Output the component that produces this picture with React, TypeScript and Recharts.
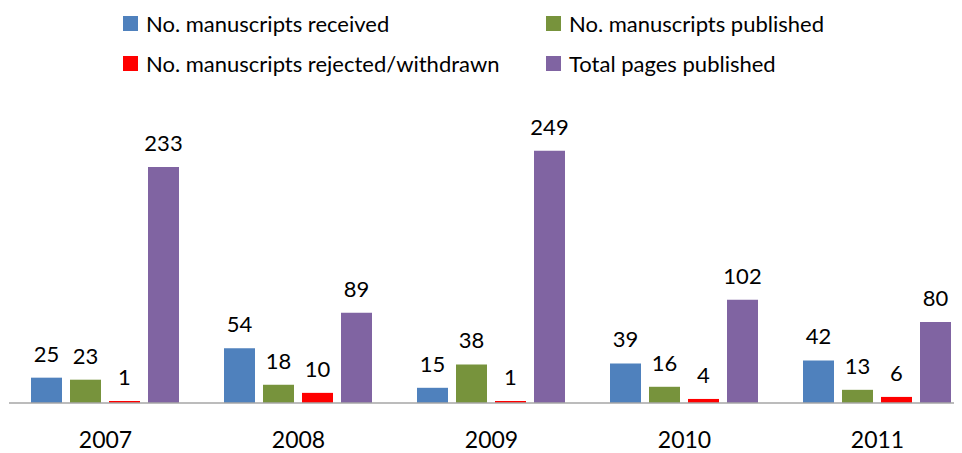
import React from "react";
import { BarChart, Bar, XAxis, YAxis, Legend, LabelList } from "recharts";

const years = ["2007", "2008", "2009", "2010", "2011"];
const received = [25, 54, 15, 39, 42];
const published = [23, 18, 38, 16, 13];
const rejected = [1, 10, 1, 4, 6];
const pages = [233, 89, 249, 102, 80];

const seriesNames = [
  "No. manuscripts received",
  "No. manuscripts published",
  "No. manuscripts rejected/withdrawn",
  "Total pages published",
];
const seriesColors = ["#4F81BD", "#77933C", "#FF0000", "#8064A2"];
const seriesKeys = ["received", "published", "rejected", "pages"];

const data = years.map((y, i) => ({
  year: y,
  received: received[i],
  published: published[i],
  rejected: rejected[i],
  pages: pages[i],
}));

const FONT = "Lato, 'Liberation Sans', sans-serif";

// legend layout: [left of swatch, top of swatch] in chart coords, order matches seriesNames
const legendPos = [
  [115, 8],
  [538, 8],
  [115, 48],
  [538, 48],
];

const CustomLegend = () => (
  <div style={{ position: "relative", width: 966, height: 91 }}>
    {seriesNames.map((name, i) => (
      <div
        key={name}
        style={{
          position: "absolute",
          left: legendPos[i][0],
          top: legendPos[i][1],
          display: "flex",
          alignItems: "center",
          height: 15,
          whiteSpace: "nowrap",
        }}
      >
        <span
          style={{
            display: "inline-block",
            width: 15,
            height: 15,
            background: seriesColors[i],
          }}
        />
        <span
          style={{
            marginLeft: 8,
            fontFamily: FONT,
            fontSize: 22,
            color: "#000",
            lineHeight: "15px",
          }}
        >
          {name}
        </span>
      </div>
    ))}
  </div>
);

const YearTick = (props: any) => {
  const { x, y, payload } = props;
  return (
    <text
      x={x}
      y={y}
      dy={45}
      textAnchor="middle"
      fontFamily={FONT}
      fontSize={23}
      fill="#000"
    >
      {payload.value}
    </text>
  );
};

export default function App() {
  return (
    <div style={{ width: 954, height: 445, overflow: "hidden" }}>
      <BarChart
        width={966}
        height={445}
        data={data}
        margin={{ top: 0, right: 0, left: 1, bottom: 20 }}
        barCategoryGap={22}
        barGap={8}
      >
        <Legend
          verticalAlign="top"
          align="left"
          content={<CustomLegend />}
          wrapperStyle={{ left: 0, top: 0, width: 966 }}
        />
        <XAxis
          dataKey="year"
          height={30}
          axisLine={{ stroke: "#A6A6A6", strokeWidth: 1.5 }}
          tickLine={false}
          tickSize={0}
          tickMargin={0}
          tick={<YearTick />}
          interval={0}
        />
        <YAxis hide domain={[0, 300]} />
        {seriesKeys.map((k, i) => (
          <Bar
            key={k}
            dataKey={k}
            name={seriesNames[i]}
            fill={seriesColors[i]}
            minPointSize={2}
            isAnimationActive={false}
          >
            <LabelList
              dataKey={k}
              position="top"
              offset={16}
              fontFamily={FONT}
              fontSize={22}
              fill="#000"
            />
          </Bar>
        ))}
      </BarChart>
    </div>
  );
}
